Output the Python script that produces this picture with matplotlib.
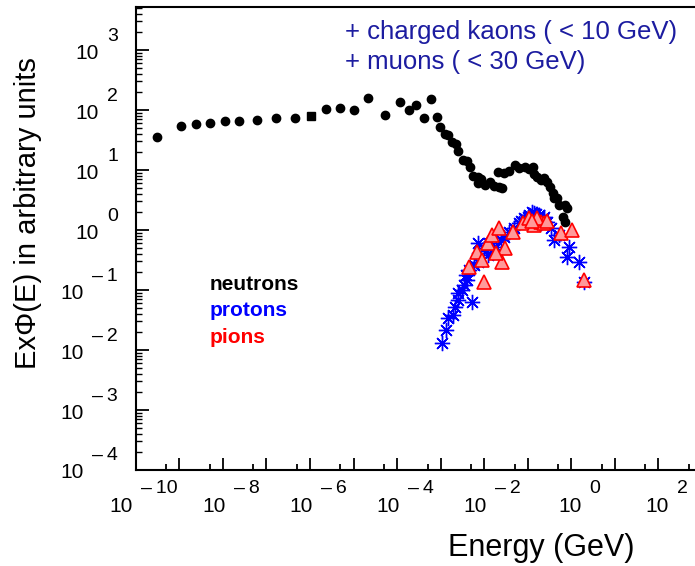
import numpy as np
import matplotlib
matplotlib.use("Agg")
import matplotlib.pyplot as plt
from matplotlib.ticker import LogLocator, NullFormatter

# ---------------- data (log10 of energy in GeV, log10 of E*Phi(E)) ----------------
neutron_logE = [-9.52, -8.97, -8.62, -8.30, -7.95, -7.63, -7.21, -6.77, -6.34,
                -5.62, -5.30, -5.00, -4.67, -4.27, -3.93, -3.73, -3.57, -3.39, -3.22, -3.08,
                -3.01, -2.91, -2.82, -2.74, -2.65, -2.59, -2.49, -2.40, -2.32, -2.25,
                -2.15, -2.07, -2.15, -1.97, -1.87, -1.77, -1.65, -1.59, -1.69, -1.54,
                -1.43, -1.29, -1.20, -1.06, -0.97, -0.89, -0.85, -0.78, -0.70, -0.62,
                -0.55, -0.49, -0.43, -0.39, -0.32, -0.28, -0.14, -0.09, -0.20, -0.14]
neutron_logF = [1.555, 1.73, 1.76, 1.78, 1.82, 1.82, 1.83, 1.87, 1.875,
                2.017, 2.04, 2.0, 2.2, 1.92, 2.14, 2.0, 2.08, 1.87, 2.19, 1.88,
                1.71, 1.60, 1.58, 1.46, 1.43, 1.31, 1.17, 1.15, 1.045, 0.905,
                0.88, 0.85, 0.78, 0.75, 0.80, 0.73, 0.72, 0.695, 0.97, 0.945,
                0.98, 1.08, 1.03, 1.045, 1.01, 1.045, 0.93, 0.89, 0.83, 0.87,
                0.80, 0.72, 0.61, 0.53, 0.53, 0.42, 0.42, 0.36, 0.22, 0.14]
neutron_sq_logE = [-5.97]
neutron_sq_logF = [1.905]

proton_logE = [-2.97, -2.875, -2.82, -2.72, -2.66, -2.61, -2.59, -2.51, -2.46, -2.40,
               -2.42, -2.28, -2.34, -2.23, -2.15, -2.11, -2.15, -2.00, -1.92, -1.88,
               -1.81, -1.73, -1.615, -1.54, -1.43, -1.31, -1.20, -1.08, -0.97, -0.85,
               -0.74, -0.62, -0.55, -0.47, -0.39, -0.28, -0.05, -0.09, 0.18, 0.29,
               -1.00, -0.90, -0.80, -0.65, -1.15, -0.70]
proton_logF = [-1.89, -1.67, -1.47, -1.42, -1.28, -1.17, -1.055, -1.0, -0.92, -0.83,
               -0.75, -1.195, -0.67, -0.58, -0.53, -0.39, -0.22, -0.305, -0.42, -0.22,
               -0.36, -0.28, -0.17, -0.11, -0.03, 0.03, 0.11, 0.195, 0.25, 0.28,
               0.25, 0.22, 0.14, 0.03, -0.17, -0.08, -0.28, -0.445, -0.53, -0.86,
               0.22, 0.30, 0.27, 0.18, 0.15, 0.12]

pion_logE = [-2.36, -2.17, -2.00, -1.92, -1.81, -1.65, -1.52, -1.59, -1.73, -1.35,
             -1.12, -0.97, -0.85, -0.70, -0.62, -0.24, 0.025, 0.29,
             -0.78, -0.90, -0.55, -2.05]
pion_logF = [-0.61, -0.36, -0.86, -0.22, -0.08, 0.03, -0.305, -0.53, -0.39, -0.03,
             0.11, 0.195, 0.08, 0.14, 0.11, -0.055, 0.0, -0.83,
             0.20, 0.15, 0.15, -0.50]

x_label_exps = [-10, -8, -6, -4, -2, 0, 2]
y_label_exps = [-4, -3, -2, -1, 0, 1, 2, 3]

legend_names = ["neutrons", "protons", "pions"]
legend_colors = ["black", "#0000ff", "#ff0000"]
note_lines = ["+ charged kaons ( < 10 GeV)", "+ muons ( < 30 GeV)"]
note_color = "#1c1ca0"

# ---------------- figure ----------------
W, H = 695, 566
fig = plt.figure(figsize=(W / 100, H / 100), dpi=100)

def fx(px):
    return px / W

def fy(py):
    return 1 - py / H

ax_left, ax_right, ax_top, ax_bottom = 135.7, 702.0, 7.0, 470.0
ax = fig.add_axes([fx(ax_left), fy(ax_bottom), fx(ax_right - ax_left), (ax_bottom - ax_top) / H])
ax.set_xscale("log")
ax.set_yscale("log")
ax.set_xlim(1e-10, 1e3)
ax.set_ylim(1e-4, 10 ** 3.717)

for s in ["left", "bottom", "top"]:
    ax.spines[s].set_linewidth(1.5)
ax.spines["right"].set_visible(False)

ax.xaxis.set_major_locator(LogLocator(base=10, subs=[1.0], numticks=30))
ax.xaxis.set_minor_locator(LogLocator(base=10, subs=[5.0], numticks=30))
ax.yaxis.set_major_locator(LogLocator(base=10, subs=[1.0], numticks=30))
ax.yaxis.set_minor_locator(LogLocator(base=10, subs=np.arange(2, 10), numticks=30))
for axis in (ax.xaxis, ax.yaxis):
    axis.set_major_formatter(NullFormatter())
    axis.set_minor_formatter(NullFormatter())
ax.tick_params(which="both", direction="in", top=False, right=False, color="black")
ax.tick_params(axis="x", which="major", length=8.6, width=1.3)
ax.tick_params(axis="x", which="minor", length=4.3, width=1.3)
ax.tick_params(axis="y", which="major", length=9.4, width=1.3)
ax.tick_params(axis="y", which="minor", length=4.0, width=1.0)

# ---------------- data marks ----------------
pE = 10.0 ** np.array(proton_logE)
pF = 10.0 ** np.array(proton_logF)
ax.plot(pE, pF, linestyle="none", marker=(8, 2, 0), markersize=11,
        markeredgecolor="#0000ff", markeredgewidth=1.0, zorder=3)
piE = 10.0 ** np.array(pion_logE)
piF = 10.0 ** np.array(pion_logF)
ax.plot(piE, piF, linestyle="none", marker="^", markersize=10,
        markerfacecolor="#ff9a9a", markeredgecolor="#ff0000", markeredgewidth=1.2, zorder=4)
nE = 10.0 ** np.array(neutron_logE)
nF = 10.0 ** np.array(neutron_logF)
ax.plot(nE, nF, linestyle="none", marker="o", markersize=6,
        markerfacecolor="black", markeredgecolor="black", zorder=5)
ax.plot(10.0 ** np.array(neutron_sq_logE), 10.0 ** np.array(neutron_sq_logF),
        linestyle="none", marker="s", markersize=5.5, color="black", zorder=5)

# ---------------- texts ----------------
tick_font = ["Liberation Sans", "DejaVu Sans"]
fig.canvas.draw()
r = fig.canvas.get_renderer()

def exp_str(e):
    return ("\u2013\u2009" + str(abs(e))) if e < 0 else str(e)

# x tick labels
for e in x_label_exps:
    xpix = ax.transData.transform((10.0 ** e, 1.0))[0]
    t10 = fig.text(0, fy(512), "10", fontsize=15, family=tick_font, ha="left", va="baseline")
    te = fig.text(0, fy(493), exp_str(e), fontsize=14, family=tick_font, ha="left", va="baseline")
    w10 = t10.get_window_extent(r).width
    we = te.get_window_extent(r).width
    gap = 8
    total = w10 + gap + we
    left = xpix + 8 - total / 2
    t10.set_x(fx(left))
    te.set_x(fx(left + w10 + gap))

# y tick labels
for e in y_label_exps:
    ypix_disp = ax.transData.transform((1.0, 10.0 ** e))[1]
    ypix = H - ypix_disp
    te = fig.text(fx(118), fy(ypix - 9.5), exp_str(e), fontsize=14, family=tick_font,
                  ha="right", va="baseline")
    we = te.get_window_extent(r).width
    fig.text(fx(118 - we - 8), fy(ypix + 8.5), "10", fontsize=15, family=tick_font,
             ha="right", va="baseline")

# axis titles
fig.text(fx(635), fy(556), "Energy (GeV)", fontsize=22, family=tick_font,
         ha="right", va="baseline")
fig.text(fx(36), fy(213), "Ex\u03a6(E) in arbitrary units", fontsize=21, family=tick_font,
         rotation=90, rotation_mode="anchor", ha="center", va="baseline")

# notes top right
for i, line in enumerate(note_lines):
    fig.text(fx(345), fy(39 + 29.5 * i), line, fontsize=18.5, family=tick_font,
             color=note_color, ha="left", va="baseline")

# species legend
for i, (name, col) in enumerate(zip(legend_names, legend_colors)):
    fig.text(fx(210), fy(290 + 26.5 * i), name, fontsize=15, family=tick_font,
             fontweight="bold", color=col, ha="left", va="baseline")

fig.savefig("out.png", dpi=100)
